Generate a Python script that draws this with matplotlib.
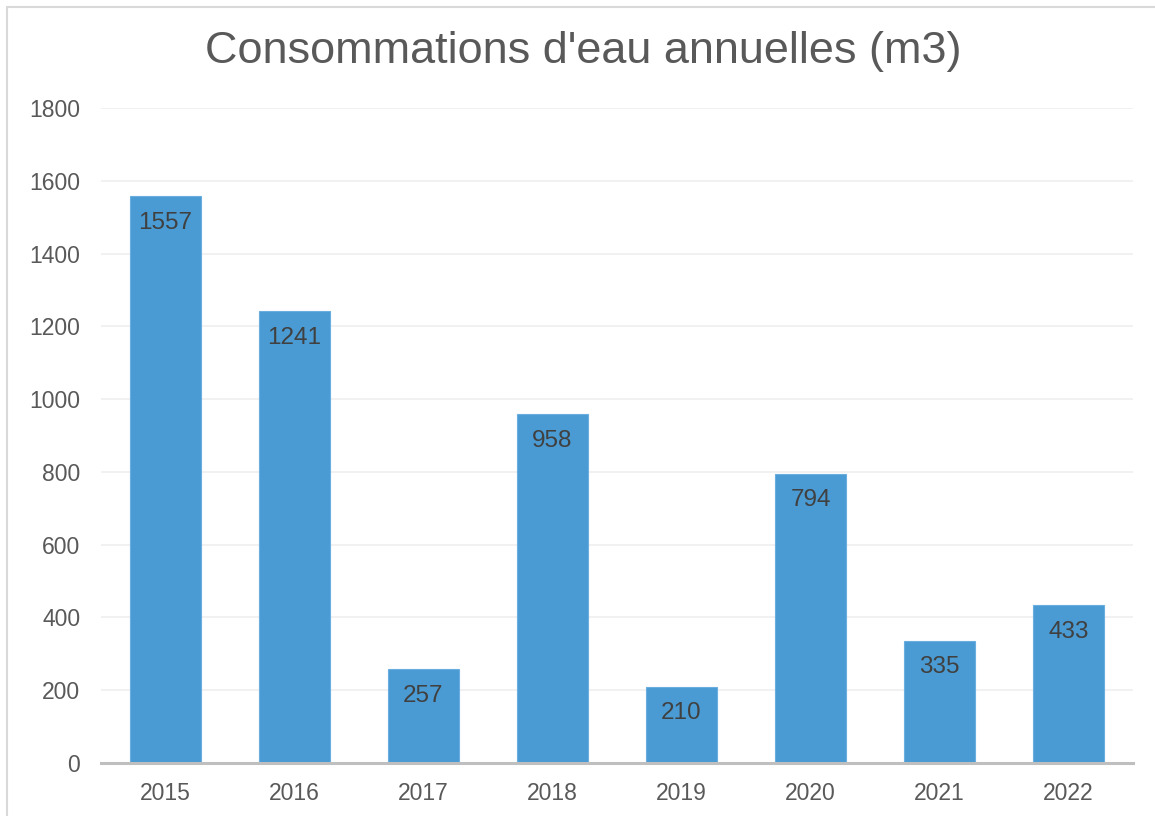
import matplotlib.pyplot as plt
from matplotlib.patches import Rectangle

years = ['2015', '2016', '2017', '2018', '2019', '2020', '2021', '2022']
conso = [1557, 1241, 257, 958, 210, 794, 335, 433]
y_ticks = [0, 200, 400, 600, 800, 1000, 1200, 1400, 1600, 1800]

plt.rcParams['font.family'] = ['Liberation Sans', 'DejaVu Sans']

W, H = 1155, 816
fig = plt.figure(figsize=(W / 100, H / 100), dpi=100)
ax = fig.add_axes([101 / W, 1 - 763 / H, (1133 - 101) / W, (763 - 108) / H])

# cadre du graphique
fig.patches.append(Rectangle((7 / W, -0.1), 1.2, 1 - 7 / H + 0.1, transform=fig.transFigure,
                             fill=False, edgecolor='#d9d9d9', linewidth=1.5))

x = range(len(years))
bars = ax.bar(x, conso, width=0.55, color='#4a9bd4', edgecolor='#6aaee0', linewidth=0.8, zorder=3)

for xi, v in zip(x, conso):
    ax.annotate(str(v), (xi, v), xytext=(0, -19), textcoords='offset points',
                ha='center', va='center', fontsize=17.5, color='#404040', zorder=4)

ax.set_xlim(-0.5, len(years) - 0.5)
ax.set_ylim(0, 1800)
ax.set_yticks(y_ticks)
ax.set_xticks(list(x))
ax.set_xticklabels(years)
ax.tick_params(axis='both', length=0, labelsize=16.5, labelcolor='#595959')
ax.tick_params(axis='y', pad=15)
ax.tick_params(axis='x', pad=14)
ax.grid(axis='y', color='#efefef', linewidth=1.2, zorder=0)

for s in ['top', 'right', 'left']:
    ax.spines[s].set_visible(False)
ax.spines['bottom'].set_color('#bfbfbf')
ax.spines['bottom'].set_linewidth(2.2)
ax.spines['bottom'].set_zorder(5)

fig.text(0.5 * (205 + 962) / W, 1 - 52 / H, "Consommations d'eau annuelles (m3)",
         ha='center', va='center', fontsize=32.4, color='#595959')

plt.savefig('out.png', dpi=100)
